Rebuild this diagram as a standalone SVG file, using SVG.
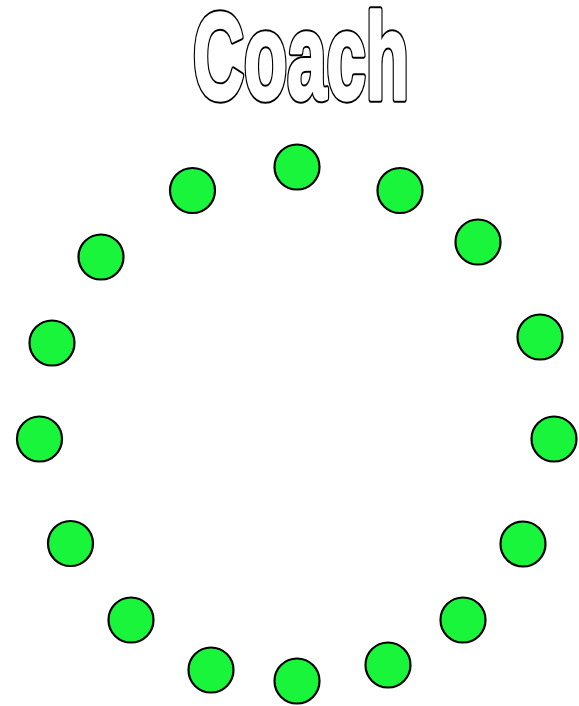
<svg xmlns="http://www.w3.org/2000/svg" width="579" height="706" viewBox="0 0 579 706">
<style>
.seat{fill:#18f53a;stroke:#000;stroke-width:2.2}
.title{font-family:"Liberation Sans Narrow","Liberation Sans",Arial,sans-serif;font-weight:bold;font-size:122px;stroke-linejoin:round}
.t-out{fill:#000;stroke:#000;stroke-width:7.5}
.t-in{fill:#fff;stroke:#fff;stroke-width:3.5}
</style>
<rect width="579" height="706" fill="#fff"/>
<g id="title">
<text class="title t-out" x="193" y="99" textLength="216" lengthAdjust="spacingAndGlyphs">Coach</text>
<text class="title t-in" x="193" y="99" textLength="216" lengthAdjust="spacingAndGlyphs">Coach</text>
</g>
<g id="seats">
<g id="s1"><circle class="seat" cx="297" cy="167" r="22.5"/></g>
<g id="s2"><circle class="seat" cx="192.5" cy="190.5" r="22.5"/></g>
<g id="s3"><circle class="seat" cx="400" cy="190.5" r="22.5"/></g>
<g id="s4"><circle class="seat" cx="101" cy="257" r="22.5"/></g>
<g id="s5"><circle class="seat" cx="478" cy="242" r="22.5"/></g>
<g id="s6"><circle class="seat" cx="52" cy="343" r="22.5"/></g>
<g id="s7"><circle class="seat" cx="540" cy="337" r="22.5"/></g>
<g id="s8"><circle class="seat" cx="39.5" cy="439" r="22.5"/></g>
<g id="s9"><circle class="seat" cx="554" cy="439" r="22.5"/></g>
<g id="s10"><circle class="seat" cx="70.5" cy="543.5" r="22.5"/></g>
<g id="s11"><circle class="seat" cx="523" cy="544" r="22.5"/></g>
<g id="s12"><circle class="seat" cx="131" cy="620" r="22.5"/></g>
<g id="s13"><circle class="seat" cx="463" cy="620" r="22.5"/></g>
<g id="s14"><circle class="seat" cx="211" cy="670" r="22.5"/></g>
<g id="s15"><circle class="seat" cx="297" cy="681" r="22.5"/></g>
<g id="s16"><circle class="seat" cx="388" cy="665" r="22.5"/></g>
</g>
<g id="connectors"/>
</svg>
